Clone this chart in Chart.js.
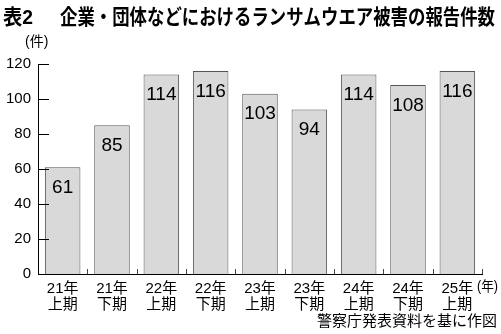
<!DOCTYPE html>
<html>
<head>
<meta charset="utf-8">
<script src="https://cdn.jsdelivr.net/npm/chart.js@4"></script>
<style>
	html, body { margin: 0; padding: 0; background: #fff; }
	#wrap { width: 501px; height: 334px; }
</style>
</head>
<body>
<div id="wrap"><canvas id="ransomChart" width="501" height="334"></canvas></div>
<script>
	// data
	var periodYears = ['21年', '21年', '22年', '22年', '23年', '23年', '24年', '24年', '25年'];
	var periodHalves = ['上期', '下期', '上期', '下期', '上期', '下期', '上期', '下期', '上期'];
	var reportCounts = [61, 85, 114, 116, 103, 94, 114, 108, 116];
	var yTicks = [0, 20, 40, 60, 80, 100, 120];

	var titleHead = '表2';
	var titleBody = '企業・団体などにおけるランサムウエア被害の報告件数';
	var yUnit = '(件)';
	var xUnit = '(年)';
	var sourceNote = '警察庁発表資料を基に作図';

	var fontFamily = '"Liberation Sans", "Noto Sans CJK JP", sans-serif';

	var labels = periodYears.map(function (y, i) { return [y, periodHalves[i]]; });

	// draws text squeezed into a given width
	function fitText(ctx, text, x, y, width) {
		var w = ctx.measureText(text).width;
		ctx.save();
		ctx.translate(x, y);
		ctx.scale(width / w, 1);
		ctx.fillText(text, 0, 0);
		ctx.restore();
	}

	var decorPlugin = {
		id: 'decor',
		afterDatasetsDraw: function (chart) {
			var ctx = chart.ctx;
			var meta = chart.getDatasetMeta(0);
			ctx.save();
			ctx.fillStyle = '#000';
			ctx.font = '19px ' + fontFamily;
			ctx.textAlign = 'center';
			ctx.textBaseline = 'top';
			meta.data.forEach(function (bar, i) {
				ctx.fillText(String(reportCounts[i]), bar.x, bar.y + 11);
			});
			ctx.restore();
		},
		afterDraw: function (chart) {
			var ctx = chart.ctx;
			var area = chart.chartArea;
			var yScale = chart.scales.y;

			ctx.save();
			// inside tick marks on the y axis
			ctx.strokeStyle = '#000';
			ctx.lineWidth = 1;
			yTicks.forEach(function (v) {
				if (v === 0) return;
				var py = Math.round(yScale.getPixelForValue(v)) + 0.5;
				ctx.beginPath();
				ctx.moveTo(area.left, py);
				ctx.lineTo(area.left + 11, py);
				ctx.stroke();
			});
			// short ticks between categories on the x axis
			ctx.strokeStyle = '#444';
			var step = (area.right - area.left) / labels.length;
			for (var i = 1; i <= labels.length; i++) {
				var px = Math.round(area.left + step * i) + 0.5;
				ctx.beginPath();
				ctx.moveTo(px, area.bottom);
				ctx.lineTo(px, area.bottom - 5);
				ctx.stroke();
			}

			ctx.fillStyle = '#000';
			ctx.textBaseline = 'middle';
			// title
			ctx.font = 'bold 21px ' + fontFamily;
			ctx.textAlign = 'left';
			fitText(ctx, titleHead, 3, 18, 30);
			fitText(ctx, titleBody, 60, 18, 435);

			// unit labels
			ctx.font = '14px ' + fontFamily;
			ctx.fillText(yUnit, 25, 42);
			fitText(ctx, xUnit, 477, 287, 21);

			// source
			ctx.font = '15px ' + fontFamily;
			ctx.textAlign = 'right';
			ctx.fillText(sourceNote, 497, 322);
			ctx.restore();
		}
	};

	var ctx = document.getElementById('ransomChart').getContext('2d');
	var ransomChart = new Chart(ctx, {
		type: 'bar',
		data: {
			labels: labels,
			datasets: [{
				data: reportCounts,
				backgroundColor: '#d9d9d9',
				borderColor: '#555',
				borderWidth: 1,
				categoryPercentage: 1.0,
				barPercentage: 0.72
			}]
		},
		options: {
			responsive: false,
			animation: false,
			devicePixelRatio: 1,
			layout: {
				padding: { top: 64, right: 19, bottom: 0, left: 0 }
			},
			plugins: {
				legend: { display: false },
				tooltip: { enabled: false }
			},
			scales: {
				x: {
					grid: { display: false, drawTicks: false },
					border: { display: true, color: '#000', width: 1 },
					ticks: {
						color: '#000',
						padding: 6,
						maxRotation: 0,
						font: { family: fontFamily, size: 15, lineHeight: 1.12 }
					},
					afterFit: function (scale) { scale.height = 60; }
				},
				y: {
					min: 0,
					max: 120,
					grid: { display: false, drawTicks: false },
					border: { display: true, color: '#000', width: 1 },
					ticks: {
						stepSize: 20,
						color: '#000',
						padding: 7,
						font: { family: fontFamily, size: 15 }
					},
					afterFit: function (scale) { scale.width = 38; }
				}
			}
		},
		plugins: [decorPlugin]
	});
</script>
</body>
</html>
